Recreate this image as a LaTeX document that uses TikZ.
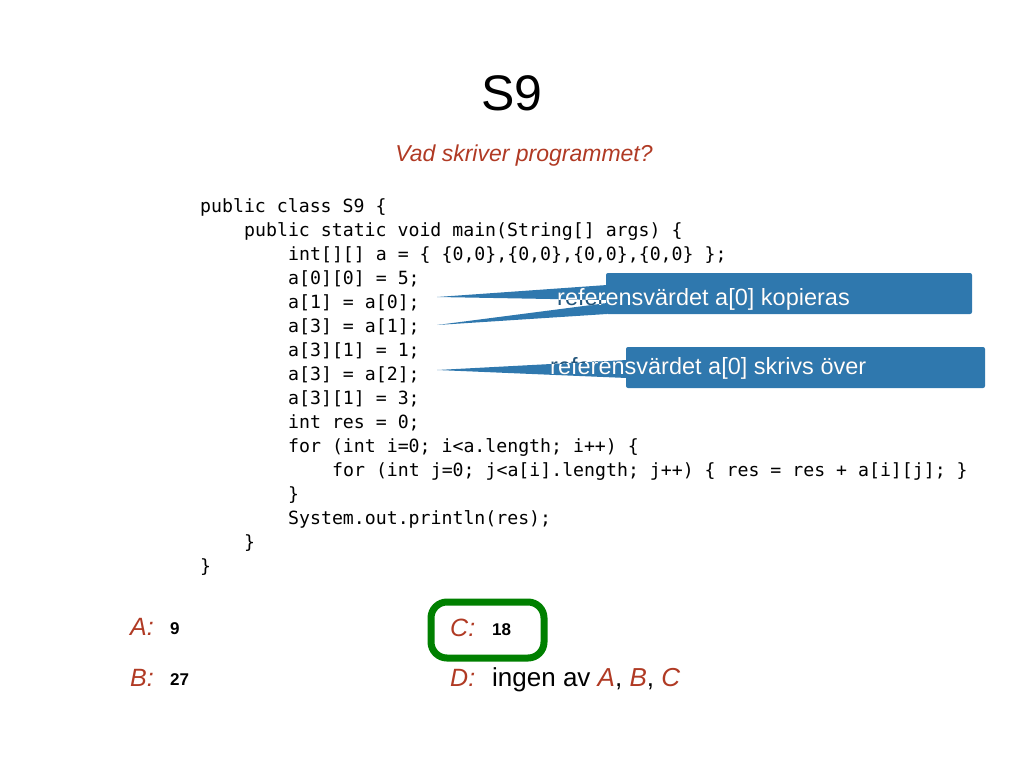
\documentclass[tikz,border=0pt]{standalone}
\usepackage{fontspec}
\setmainfont{Liberation Sans}
\setmonofont{DejaVu Sans Mono}
\begin{document}
\begin{tikzpicture}[x=1pt,y=-1pt,
  code/.style={anchor=west,inner sep=0,font=\fontsize{18.2}{20}\selectfont\ttfamily},
  lab/.style={anchor=base west,inner sep=0,text=lr,font=\fontsize{25}{28}\selectfont\itshape},
  val/.style={anchor=base west,inner sep=0,font=\fontsize{17}{20}\selectfont\bfseries},
  ctext/.style={anchor=west,inner sep=0,font=\fontsize{23.5}{26}\selectfont}]
\useasboundingbox (0,0) rectangle (1024,768);
\definecolor{cb}{HTML}{2F78AE}
\definecolor{lr}{HTML}{B03A24}
\node[inner sep=0,font=\fontsize{50}{54}\selectfont] (title) at (512,93) {S9};
\node[inner sep=0,text=lr,font=\fontsize{23}{26}\selectfont\itshape] (sub) at (524,156) {Vad skriver programmet?};
\node[code] (l1) at (200,207) {public class S9 \{};
\node[code] (l2) at (244,231) {public static void main(String[] args) \{};
\node[code] (l3) at (288,255) {int[][] a = \{ \{0,0\},\{0,0\},\{0,0\},\{0,0\} \};};
\node[code] (l4) at (288,279) {a[0][0] = 5;};
\node[code] (l5) at (288,303) {a[1] = a[0];};
\node[code] (l6) at (288,327) {a[3] = a[1];};
\node[code] (l7) at (288,351) {a[3][1] = 1;};
\node[code] (l8) at (288,375) {a[3] = a[2];};
\node[code] (l9) at (288,399) {a[3][1] = 3;};
\node[code] (l10) at (288,423) {int res = 0;};
\node[code] (l11) at (288,447) {for (int i=0; i<a.length; i++) \{};
\node[code] (l12) at (332,471) {for (int j=0; j<a[i].length; j++) \{ res = res + a[i][j]; \}};
\node[code] (l13) at (288,495) {\}};
\node[code] (l14) at (288,519) {System.out.println(res);};
\node[code] (l15) at (244,543) {\}};
\node[code] (l16) at (200,567) {\}};
% callouts
\coordinate (t1) at (437,297);
\coordinate (t2) at (437,325);
\coordinate (t3) at (437,370);
\fill[cb] (t1) -- (607,285) -- (607,300) -- cycle;
\fill[cb] (t2) -- (607,303) -- (607,314) -- cycle;
\fill[cb] (t3) -- (627,360) -- (627,378) -- cycle;
\fill[cb,rounded corners=2] (606,273) rectangle (972,314);
\fill[cb,rounded corners=2] (626,347) rectangle (985,388);
\node[ctext,text=cb!70!black] (c1) at (557,299) {referensvärdet a[0] kopieras};
\node[ctext,text=cb!70!black] (c2) at (550,368) {referensvärdet a[0] skrivs över};
\begin{scope}
\clip (606,273) rectangle (972,314) (626,347) rectangle (985,388)
  (437,297) -- (607,285) -- (607,300) -- cycle
  (437,325) -- (607,303) -- (607,314) -- cycle
  (437,370) -- (627,360) -- (627,378) -- cycle;
\node[ctext,text=white] at (557,299) {referensvärdet a[0] kopieras};
\node[ctext,text=white] at (550,368) {referensvärdet a[0] skrivs över};
\end{scope}
% answers
\node[lab] (A) at (130,635) {A:};
\node[val] (Av) at (170,634) {9};
\node[lab] (B) at (130,686) {B:};
\node[val] (Bv) at (170,685) {27};
\node[lab] (C) at (450,636) {C:};
\node[val] (Cv) at (492,635) {18};
\node[lab] (D) at (450,686) {D:};
\node[anchor=base west,inner sep=0,font=\fontsize{26}{28}\selectfont] (Dv) at (492,686) {ingen av \textcolor{lr}{\itshape A}, \textcolor{lr}{\itshape B}, \textcolor{lr}{\itshape C}};
\draw[line width=7,draw=green!50!black,rounded corners=16] (431,602) rectangle (544,658);
\end{tikzpicture}
\end{document}
